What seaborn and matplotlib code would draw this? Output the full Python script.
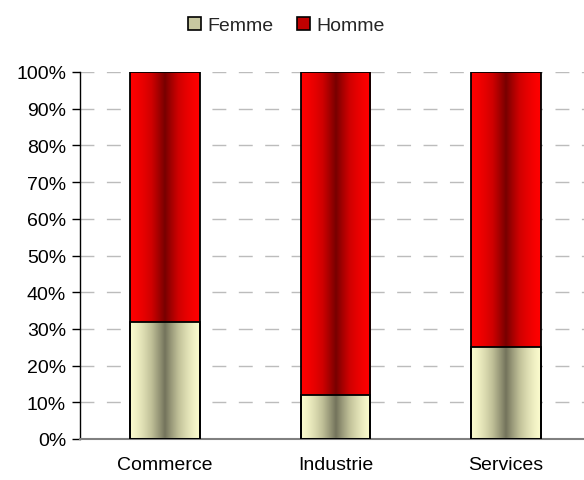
import numpy as np
import pandas as pd
import seaborn as sns
import matplotlib.pyplot as plt
from matplotlib.colors import LinearSegmentedColormap
from matplotlib.patches import Patch

categories = ['Commerce', 'Industrie', 'Services']
femme = [32, 12, 25]
homme = [68, 88, 75]
yticks = [0, 10, 20, 30, 40, 50, 60, 70, 80, 90, 100]

sns.set_theme(style='white')
plt.rcParams['font.family'] = ['Liberation Sans', 'DejaVu Sans']

fig = plt.figure(figsize=(5.84, 4.81), dpi=100)
ax = fig.add_axes([80 / 584, 41 / 481, 511 / 584, 367 / 481])

total = [f + h for f, h in zip(femme, homme)]
df = pd.DataFrame({'cat': categories, 'femme': femme, 'total': total})

sns.barplot(data=df, x='cat', y='total', color='red', width=0.41,
            edgecolor='black', linewidth=1.3, ax=ax)
n_h = len(ax.patches)
sns.barplot(data=df, x='cat', y='femme', color='#f0f0c0', width=0.41,
            edgecolor='black', linewidth=1.3, ax=ax)

cm_h = LinearSegmentedColormap.from_list('h', ['#ff0000', '#d00000', '#780000'])
cm_f = LinearSegmentedColormap.from_list('f', ['#fbfbcd', '#c0c098', '#74745c'])
g = (1 - np.abs(np.linspace(-1, 1, 256))) ** 1.4
g = g[np.newaxis, :]
for i, p in enumerate(ax.patches):
    x0, y0 = p.get_x(), p.get_y()
    w, h = p.get_width(), p.get_height()
    cmap = cm_h if i < n_h else cm_f
    im = ax.imshow(g, cmap=cmap, extent=[x0, x0 + w, y0, y0 + h],
                   aspect='auto', zorder=2, vmin=0, vmax=1)
    im.set_clip_path(p)
    p.set_facecolor('none')
    p.set_zorder(3 + (1 if i >= n_h else 0))

ax.set_xlim(-0.5, 2.5)
ax.set_ylim(0, 100)
ax.set_yticks(yticks)
ax.set_yticklabels([f'{v}%' for v in yticks], fontsize=14, color='black')
ax.set_xlabel('')
ax.set_ylabel('')
ax.set_xticks(range(len(categories)))
ax.set_xticklabels(categories, fontsize=14, color='black')
ax.set_xticks([-0.5, 0.5, 1.5, 2.5], minor=True)
ax.tick_params(axis='x', which='major', length=0, pad=12)
ax.tick_params(axis='x', which='minor', length=6, width=1, color='#404040', direction='out')
ax.tick_params(axis='y', length=6, width=1, color='black', direction='out', pad=4, left=True)

ax.yaxis.grid(True, color='#bcbcbc', linestyle=(0, (10, 9)), linewidth=1)
ax.set_axisbelow(True)
for s in ['top', 'right']:
    ax.spines[s].set_visible(False)
ax.spines['left'].set_color('black')
ax.spines['left'].set_linewidth(1)
ax.spines['bottom'].set_color('#808080')
ax.spines['bottom'].set_linewidth(1.5)

handles = [Patch(facecolor='#c8c8a0', edgecolor='black', linewidth=1.2, label='Femme'),
           Patch(facecolor='#c00000', edgecolor='black', linewidth=1.2, label='Homme')]
fig.legend(handles=handles, loc='upper center', bbox_to_anchor=(0.49, 1.0), ncol=2,
           frameon=False, fontsize=14, handlelength=0.7, handleheight=0.7,
           handletextpad=0.3, columnspacing=1.2)

fig.savefig('out.png', dpi=100)
